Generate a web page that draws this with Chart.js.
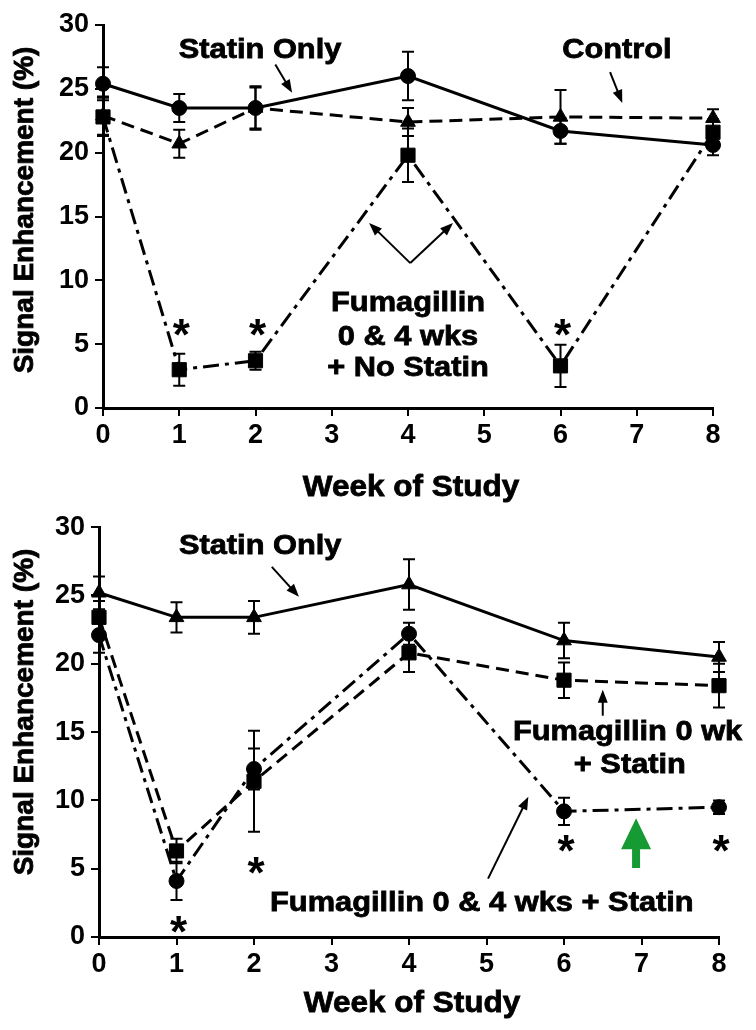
<!DOCTYPE html>
<html lang="en">
<head>
<meta charset="UTF-8">
<title>Signal Enhancement by Week of Study</title>
<script src="https://cdn.jsdelivr.net/npm/chart.js"></script>
<style>
  body { margin: 0; background: #fff; }
  canvas { display: block; }
</style>
</head>
<body>
<canvas id="topChart" width="756" height="505"></canvas>
<canvas id="bottomChart" width="756" height="525"></canvas>
<script>
// weeks and tick labels
const weeks = [0, 1, 2, 4, 6, 8];
const xTicks = [0, 1, 2, 3, 4, 5, 6, 7, 8];
const yTicks = [0, 5, 10, 15, 20, 25, 30];

// top panel
const statinOnlyA = [25.4, 23.5, 23.5, 26.0, 21.7, 20.6];
const statinOnlyAErr = [1.3, 1.1, 1.7, 1.9, 1.0, 0.8];
const controlA = [22.9, 20.7, 23.5, 22.4, 22.8, 22.7];
const controlAErr = [1.5, 1.1, 1.6, 1.1, 2.1, 0.7];
const fumNoStatin = [22.8, 3.0, 3.7, 19.8, 3.3, 21.6];
const fumNoStatinErr = [1.5, 1.25, 0.7, 2.1, 1.65, 1.0];
const starWeeksA = [1, 2, 6];
const starValsA = [6.5, 6.5, 6.5];

// bottom panel
const statinOnlyB = [25.2, 23.4, 23.4, 25.8, 21.7, 20.5];
const statinOnlyBErr = [1.2, 1.1, 1.2, 1.85, 1.3, 1.1];
const fum0Statin = [23.4, 6.3, 11.4, 20.8, 18.8, 18.4];
const fum0StatinErr = [1.2, 0.9, 3.7, 1.4, 1.3, 1.6];
const fum04Statin = [22.1, 4.1, 12.3, 22.2, 9.2, 9.5];
const fum04StatinErr = [1.3, 1.4, 1.5, 0.8, 1.0, 0.5];
const starWeeksB = [1, 2, 6, 8];
const starValsB = [1.1, 5.4, 7.0, 7.0];

const FONT = '"Liberation Sans", Arial, sans-serif';
Chart.defaults.font.family = FONT;
Chart.defaults.color = '#000';

const SOLID = [];
const DASH = [13, 7];
const DASHDOT = [16, 6, 4, 6];

function series(vals, errs, style, dash) {
  return {
    data: weeks.map((w, i) => ({ x: w, y: vals[i] })),
    errors: errs,
    borderColor: '#000',
    borderWidth: 3,
    borderDash: dash,
    pointStyle: style,
    pointRadius: style === 'rect' ? 10 : (style === 'triangle' ? 8.5 : 7.5),
    pointBackgroundColor: '#000',
    pointBorderColor: '#000',
    pointBorderWidth: 1,
    tension: 0,
    clip: false
  };
}

const errorBars = {
  id: 'errorBars',
  beforeDatasetsDraw(chart) {
    const { ctx, scales: { x, y } } = chart;
    ctx.save();
    ctx.strokeStyle = '#000';
    ctx.lineWidth = 2;
    chart.data.datasets.forEach(ds => {
      ds.data.forEach((p, i) => {
        const e = ds.errors[i];
        const px = x.getPixelForValue(p.x);
        const t = y.getPixelForValue(p.y + e);
        const b = y.getPixelForValue(p.y - e);
        ctx.beginPath();
        ctx.moveTo(px, t); ctx.lineTo(px, b);
        ctx.moveTo(px - 6, t); ctx.lineTo(px + 6, t);
        ctx.moveTo(px - 6, b); ctx.lineTo(px + 6, b);
        ctx.stroke();
      });
    });
    ctx.restore();
  }
};

function arrow(ctx, x1, y1, x2, y2) {
  const a = Math.atan2(y2 - y1, x2 - x1);
  const len = 13, hw = 5;
  ctx.beginPath();
  ctx.moveTo(x1, y1);
  ctx.lineTo(x2 - Math.cos(a) * len * 0.8, y2 - Math.sin(a) * len * 0.8);
  ctx.stroke();
  ctx.beginPath();
  ctx.moveTo(x2, y2);
  ctx.lineTo(x2 - Math.cos(a) * len - Math.sin(a) * hw, y2 - Math.sin(a) * len + Math.cos(a) * hw);
  ctx.lineTo(x2 - Math.cos(a) * len + Math.sin(a) * hw, y2 - Math.sin(a) * len - Math.cos(a) * hw);
  ctx.closePath();
  ctx.fill();
}

// bold text, a little wider and heavier like the original figure
function label(ctx, text, px, py, size, sx, rot) {
  ctx.save();
  ctx.translate(px, py);
  if (rot) ctx.rotate(rot);
  ctx.scale(sx, 1);
  ctx.font = 'bold ' + size + 'px ' + FONT;
  ctx.lineWidth = 0.8;
  ctx.fillText(text, 0, 0);
  ctx.strokeText(text, 0, 0);
  ctx.restore();
}

function makeNotes(spec) {
  return {
    id: 'notes',
    afterDraw(chart) {
      const { ctx, chartArea: ca, scales: { x, y } } = chart;
      ctx.save();
      ctx.fillStyle = '#000';
      ctx.strokeStyle = '#000';
      ctx.textAlign = 'center';
      ctx.textBaseline = 'middle';

      // axis titles
      label(ctx, 'Week of Study', (ca.left + ca.right) / 2 + 3, spec.xTitleY, 30, 1.05);
      label(ctx, 'Signal Enhancement (%)', 25, spec.yTitleY, 28, 1.0, -Math.PI / 2);

      // labels
      spec.texts.forEach(t => {
        label(ctx, t.t, x.getPixelForValue(t.x), y.getPixelForValue(t.y), 28, 1.1);
      });

      // arrows
      ctx.lineWidth = 2;
      spec.arrows.forEach(a => {
        arrow(ctx, x.getPixelForValue(a.x1), y.getPixelForValue(a.y1),
          x.getPixelForValue(a.x2), y.getPixelForValue(a.y2));
      });

      // significance stars
      ctx.font = 'bold 44px ' + FONT;
      ctx.textBaseline = 'alphabetic';
      spec.starWeeks.forEach((w, i) => {
        ctx.fillText('*', x.getPixelForValue(w) + 2, y.getPixelForValue(spec.starVals[i]) + 25);
      });

      // green arrow
      if (spec.green) {
        const g = spec.green;
        const gx = x.getPixelForValue(g.x);
        const tip = y.getPixelForValue(g.top);
        const base = y.getPixelForValue(g.bottom);
        const headH = 31, headW = 15, shaft = 4;
        ctx.fillStyle = '#159a34';
        ctx.beginPath();
        ctx.moveTo(gx, tip);
        ctx.lineTo(gx + headW, tip + headH);
        ctx.lineTo(gx + shaft, tip + headH);
        ctx.lineTo(gx + shaft, base);
        ctx.lineTo(gx - shaft, base);
        ctx.lineTo(gx - shaft, tip + headH);
        ctx.lineTo(gx - headW, tip + headH);
        ctx.closePath();
        ctx.fill();
      }
      ctx.restore();
    }
  };
}

function axis(min, max, ticks, fit, pad) {
  return {
    type: 'linear',
    min: min,
    max: max,
    afterBuildTicks: s => { s.ticks = ticks.map(v => ({ value: v })); },
    afterFit: fit,
    grid: { drawOnChartArea: false, color: '#000', lineWidth: 2, tickLength: 8 },
    border: { display: true, color: '#000', width: 3 },
    ticks: { color: '#000', font: { size: 27, weight: 'bold' }, padding: pad, maxRotation: 0, autoSkip: false }
  };
}

function makeChart(id, datasets, pad, yW, xH, spec) {
  return new Chart(document.getElementById(id), {
    type: 'line',
    data: { datasets: datasets },
    options: {
      responsive: false,
      animation: false,
      devicePixelRatio: 1,
      layout: { padding: pad },
      plugins: { legend: { display: false }, tooltip: { enabled: false } },
      scales: {
        x: axis(0, 8, xTicks, s => { s.height = xH; }, 3),
        y: axis(0, 30, yTicks, s => { s.width = yW; }, 6)
      }
    },
    plugins: [errorBars, makeNotes(spec)]
  });
}

makeChart('topChart', [
  series(statinOnlyA, statinOnlyAErr, 'circle', SOLID),
  series(controlA, controlAErr, 'triangle', DASH),
  series(fumNoStatin, fumNoStatinErr, 'rect', DASHDOT)
], { top: 25, right: 43, left: 0, bottom: 0 }, 103, 97, {
  xTitleY: 488,
  yTitleY: 210,
  texts: [
    { t: 'Statin Only', x: 2.06, y: 28.0 },
    { t: 'Control', x: 6.74, y: 28.0 },
    { t: 'Fumagillin', x: 4.0, y: 8.2 },
    { t: '0 & 4 wks', x: 4.0, y: 5.56 },
    { t: '+ No Statin', x: 4.0, y: 3.13 }
  ],
  arrows: [
    { x1: 2.26, y1: 26.9, x2: 2.48, y2: 24.7 },
    { x1: 6.65, y1: 26.3, x2: 6.81, y2: 23.9 },
    { x1: 4.03, y1: 11.35, x2: 3.49, y2: 14.5 },
    { x1: 4.03, y1: 11.35, x2: 4.59, y2: 14.5 }
  ],
  starWeeks: starWeeksA,
  starVals: starValsA
});

makeChart('bottomChart', [
  series(statinOnlyB, statinOnlyBErr, 'triangle', SOLID),
  series(fum0Statin, fum0StatinErr, 'rect', DASH),
  series(fum04Statin, fum04StatinErr, 'circle', DASHDOT)
], { top: 18, right: 37, left: 0, bottom: 0 }, 99, 93, {
  xTitleY: 499,
  yTitleY: 207,
  texts: [
    { t: 'Statin Only', x: 2.08, y: 28.6 },
    { t: 'Fumagillin 0 wk', x: 6.82, y: 15.0 },
    { t: '+ Statin', x: 6.85, y: 12.6 },
    { t: 'Fumagillin 0 & 4 wks + Statin', x: 4.94, y: 2.46 }
  ],
  arrows: [
    { x1: 2.23, y1: 27.1, x2: 2.58, y2: 24.9 },
    { x1: 6.5, y1: 16.2, x2: 6.5, y2: 18.1 },
    { x1: 5.02, y1: 4.27, x2: 5.54, y2: 10.27 }
  ],
  starWeeks: starWeeksB,
  starVals: starValsB,
  green: { x: 6.93, top: 8.7, bottom: 5.06 }
});
</script>
</body>
</html>
